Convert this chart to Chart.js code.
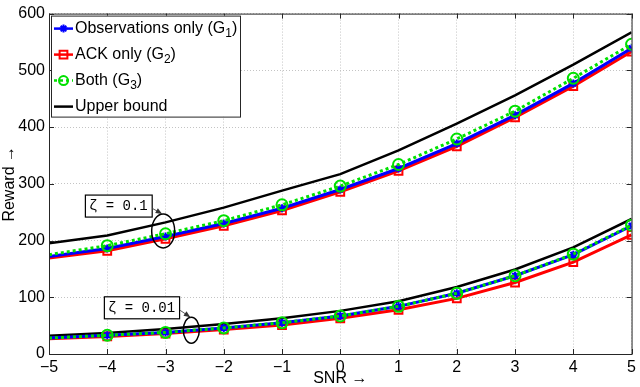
<!DOCTYPE html>
<html>
<head>
<meta charset="utf-8">
<script src="https://cdn.jsdelivr.net/npm/chart.js@4"></script>
<style>
  html, body { margin: 0; padding: 0; background: #fff; }
</style>
</head>
<body>
<canvas id="reward" width="640" height="387"></canvas>
<script>
// SNR values on the x axis
const snr = [-5, -4, -3, -2, -1, 0, 1, 2, 3, 4, 5];

// zeta = 0.1
const obsHigh   = [172, 186, 207, 230, 257, 290, 327, 371, 421, 477, 539];
const ackHigh   = [169, 182, 203, 226, 253, 286, 323, 366, 417, 472, 533];
const bothHigh  = [175, 191, 212, 235, 263, 296, 334, 379, 428, 486, 546];
const boundHigh = [195, 209, 232, 258, 288, 317, 359, 406, 456, 510, 567];

// zeta = 0.01
const obsLow   = [28, 33, 38, 46, 55, 67, 84, 107, 138, 175, 226];
const ackLow   = [27, 31, 36, 43, 51, 63, 78, 98, 126, 162, 210];
const bothLow  = [28, 33, 38, 46, 55, 67, 84, 107, 138, 176, 227];
const boundLow = [32, 37, 44, 53, 63, 76, 93, 118, 149, 188, 238];

const seriesNames = ['Observations only (G_1)', 'ACK only (G_2)', 'Both (G_3)', 'Upper bound'];
const yTicks = [0, 100, 200, 300, 400, 500, 600];

const styles = [
  { color: '#0000ff', marker: 'star',   radius: 4,   dash: [],     order: 2 },
  { color: '#ff0000', marker: 'rect',   radius: 5.5, dash: [],     order: 3 },
  { color: '#00e000', marker: 'circle', radius: 5.5, dash: [3, 3], order: 1 },
  { color: '#000000', marker: false,    radius: 0,   dash: [],     order: 4 }
];

const notes = [
  { text: 'ζ = 0.1',  boxX: -4.384, boxY: 281,   ellX: -3.04,  ellY: 217, rx: 11.5, ry: 17 },
  { text: 'ζ = 0.01', boxX: -4.058, boxY: 101.7, ellX: -2.557, ellY: 42,  rx: 8,    ry: 13 }
];

const FONT = '"Liberation Sans", Arial, sans-serif';

function pairs(values) {
  return snr.map((s, i) => ({ x: s, y: values[i] }));
}

function makeSet(name, values, k) {
  const st = styles[k];
  return {
    label: name,
    data: pairs(values),
    borderColor: st.color,
    backgroundColor: 'transparent',
    borderWidth: k === 3 ? 2.5 : 3,
    borderDash: st.dash,
    pointStyle: st.marker,
    pointRadius: c => (c.dataIndex === 0 || !st.marker) ? 0 : st.radius,
    pointBorderWidth: 2,
    pointBorderColor: st.color,
    pointBackgroundColor: 'rgba(0,0,0,0)',
    order: st.order,
    tension: 0
  };
}

const groups = [
  [obsHigh, ackHigh, bothHigh, boundHigh],
  [obsLow, ackLow, bothLow, boundLow]
];
const datasets = [];
groups.forEach(g => g.forEach((vals, k) => datasets.push(makeSet(seriesNames[k], vals, k))));

// hollow marker for the legend
function drawMarker(ctx, k, x, y) {
  const st = styles[k];
  const r = st.radius;
  ctx.strokeStyle = st.color;
  ctx.lineWidth = 2;
  ctx.beginPath();
  if (st.marker === 'circle') {
    ctx.arc(x, y, r - 1, 0, Math.PI * 2);
  } else if (st.marker === 'rect') {
    const h = r * Math.SQRT1_2;
    ctx.rect(x - h, y - h, 2 * h, 2 * h);
  } else if (st.marker === 'star') {
    ctx.moveTo(x - r, y); ctx.lineTo(x + r, y);
    ctx.moveTo(x, y - r); ctx.lineTo(x, y + r);
    const d = r * 0.7;
    ctx.moveTo(x - d, y - d); ctx.lineTo(x + d, y + d);
    ctx.moveTo(x - d, y + d); ctx.lineTo(x + d, y - d);
  }
  ctx.stroke();
}

function drawLabel(ctx, label, x, y) {
  // "_n" means subscript n
  const parts = label.split(/_(\d)/);
  let cx = x;
  parts.forEach((p, i) => {
    if (i % 2 === 1) {
      ctx.font = '12px ' + FONT;
      ctx.fillText(p, cx, y + 5);
    } else {
      ctx.font = '16px ' + FONT;
      ctx.fillText(p, cx, y);
    }
    cx += ctx.measureText(p).width;
  });
}

const extras = {
  id: 'extras',
  afterDatasetsDraw(chart) {
    const { ctx, chartArea: a, scales: { x, y } } = chart;
    ctx.save();

    // zeta annotations
    notes.forEach(n => {
      const ex = x.getPixelForValue(n.ellX), ey = y.getPixelForValue(n.ellY);
      ctx.strokeStyle = '#000';
      ctx.lineWidth = 1.5;
      ctx.beginPath();
      ctx.ellipse(ex, ey, n.rx, n.ry, 0, 0, Math.PI * 2);
      ctx.stroke();

      ctx.font = '14px "Liberation Mono", "DejaVu Sans Mono", monospace';
      const tw = ctx.measureText(n.text).width;
      const bx = x.getPixelForValue(n.boxX), by = y.getPixelForValue(n.boxY);
      const bw = tw + 8, bh = 22;
      ctx.fillStyle = '#fff';
      ctx.fillRect(bx, by, bw, bh);
      ctx.lineWidth = 1.2;
      ctx.strokeRect(bx + 0.5, by + 0.5, bw, bh);
      ctx.fillStyle = '#000';
      ctx.textBaseline = 'middle';
      ctx.textAlign = 'left';
      ctx.fillText(n.text, bx + 4, by + bh / 2 + 1);

      // arrow
      const x0 = bx + bw + 1, y0 = by + 14;
      const x1 = ex - 1, y1 = ey - n.ry;
      ctx.strokeStyle = '#555';
      ctx.lineWidth = 1;
      ctx.beginPath();
      ctx.moveTo(x0, y0);
      ctx.lineTo(x1, y1);
      ctx.stroke();
      const ang = Math.atan2(y1 - y0, x1 - x0);
      ctx.fillStyle = '#333';
      ctx.beginPath();
      ctx.moveTo(x1, y1);
      ctx.lineTo(x1 - 7 * Math.cos(ang - 0.4), y1 - 7 * Math.sin(ang - 0.4));
      ctx.lineTo(x1 - 7 * Math.cos(ang + 0.4), y1 - 7 * Math.sin(ang + 0.4));
      ctx.closePath();
      ctx.fill();
    });

    // frame and inward ticks
    ctx.strokeStyle = '#262626';
    ctx.lineWidth = 1;
    ctx.strokeRect(a.left + 0.5, a.top + 0.5, a.right - a.left, a.bottom - a.top);
    ctx.beginPath();
    x.ticks.forEach(t => {
      const px = Math.round(x.getPixelForValue(t.value)) + 0.5;
      ctx.moveTo(px, a.bottom); ctx.lineTo(px, a.bottom - 5);
      ctx.moveTo(px, a.top); ctx.lineTo(px, a.top + 5);
    });
    y.ticks.forEach(t => {
      const py = Math.round(y.getPixelForValue(t.value)) + 0.5;
      ctx.moveTo(a.left, py); ctx.lineTo(a.left + 5, py);
      ctx.moveTo(a.right, py); ctx.lineTo(a.right - 5, py);
    });
    ctx.stroke();

    // legend box
    const lx = a.left + 2, ly = a.top + 2, lw = 189, lh = 101;
    ctx.fillStyle = '#fff';
    ctx.fillRect(lx, ly, lw, lh);
    ctx.strokeStyle = '#262626';
    ctx.lineWidth = 1;
    ctx.strokeRect(lx + 0.5, ly + 0.5, lw, lh);
    seriesNames.forEach((name, k) => {
      const cy = ly + 13 + k * 26;
      const st = styles[k];
      ctx.strokeStyle = st.color;
      ctx.lineWidth = 2.5;
      ctx.setLineDash(st.dash);
      ctx.beginPath();
      ctx.moveTo(lx + 3, cy);
      ctx.lineTo(lx + 22, cy);
      ctx.stroke();
      ctx.setLineDash([]);
      if (st.marker) drawMarker(ctx, k, lx + 12.5, cy);
      ctx.fillStyle = '#000';
      ctx.textBaseline = 'middle';
      ctx.textAlign = 'left';
      drawLabel(ctx, name, lx + 24, cy);
    });
    ctx.restore();
  }
};

new Chart(document.getElementById('reward'), {
  type: 'line',
  data: { datasets },
  options: {
    responsive: false,
    animation: false,
    layout: { padding: { top: 5, right: 7, left: 0, bottom: 0 } },
    plugins: { legend: { display: false }, tooltip: { enabled: false } },
    scales: {
      x: {
        type: 'linear',
        min: -5, max: 5,
        afterFit: s => { s.height = 33; },
        ticks: {
          stepSize: 1,
          padding: 4,
          color: '#000',
          font: { size: 16, family: FONT },
          callback: v => String(v).replace('-', '\u2212')
        },
        grid: { color: '#c4c4c4', drawTicks: false },
        border: { display: false, dash: [1, 2] },
        title: {
          display: true, text: 'SNR \u2192', color: '#000', padding: 0,
          font: { size: 16, family: FONT, lineHeight: 1 }
        }
      },
      y: {
        min: 0, max: 600,
        afterFit: s => { s.width = 49; },
        afterBuildTicks: s => { s.ticks = yTicks.map(v => ({ value: v })); },
        ticks: {
          padding: 4,
          color: '#000',
          font: { size: 16, family: FONT }
        },
        grid: { color: '#c4c4c4', drawTicks: false },
        border: { display: false, dash: [1, 2] },
        title: {
          display: true, text: 'Reward \u2192', color: '#000', padding: { top: 0, bottom: 1 },
          font: { size: 16, family: FONT }
        }
      }
    }
  },
  plugins: [extras]
});
</script>
</body>
</html>
